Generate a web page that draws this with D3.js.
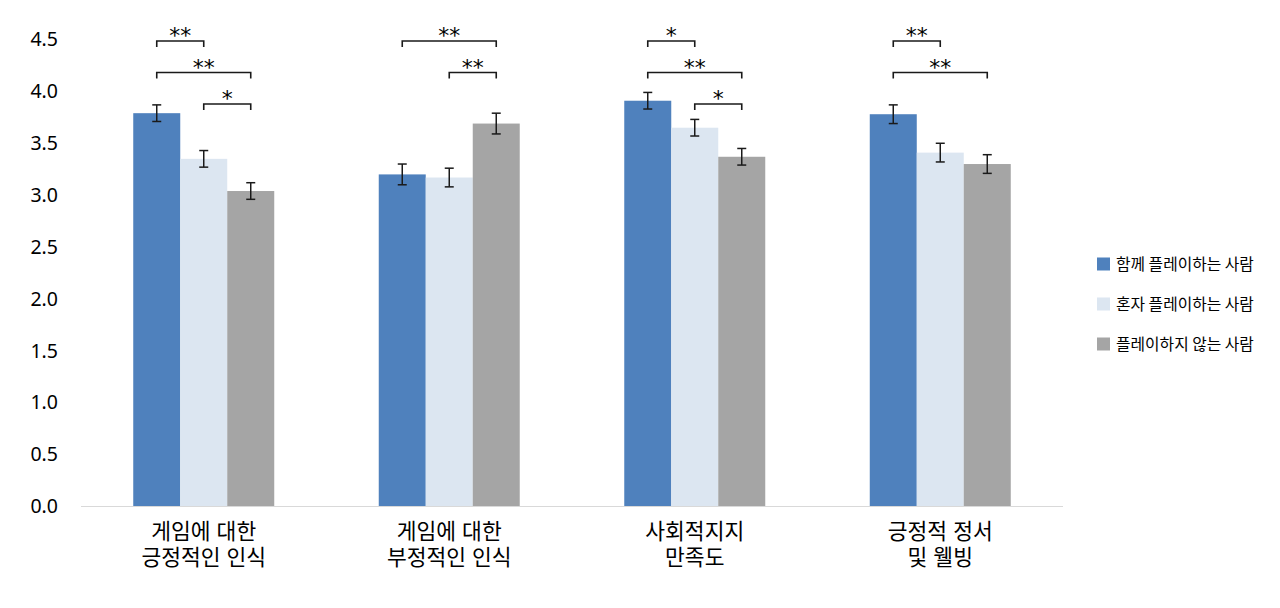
<!DOCTYPE html>
<html>
<head>
<meta charset="utf-8">
<script src="https://cdn.jsdelivr.net/npm/d3@7/dist/d3.min.js"></script>
<style>
  html, body { margin: 0; padding: 0; background: #fff; }
  svg { display: block; }
</style>
</head>
<body>
<svg id="chart" width="1280" height="608"></svg>
<script>
// ---- data ----
const categoryLine1 = ["게임에 대한", "게임에 대한", "사회적지지", "긍정적 정서"];
const categoryLine2 = ["긍정적인 인식", "부정적인 인식", "만족도", "및 웰빙"];
const seriesNames = ["함께 플레이하는 사람", "혼자 플레이하는 사람", "플레이하지 않는 사람"];
const seriesColors = ["#4F81BD", "#DCE6F1", "#A5A5A5"];
const togetherValues = [3.79, 3.20, 3.91, 3.78];
const aloneValues    = [3.35, 3.17, 3.65, 3.41];
const noneValues     = [3.04, 3.69, 3.37, 3.30];
const togetherErrors = [0.08, 0.10, 0.08, 0.09];
const aloneErrors    = [0.08, 0.09, 0.08, 0.09];
const noneErrors     = [0.08, 0.10, 0.08, 0.09];
const yTicks = [0, 0.5, 1.0, 1.5, 2.0, 2.5, 3.0, 3.5, 4.0, 4.5];
// significance comparisons: [category index, series a, series b, bracket level, label]
const comparisons = [
  [0, 0, 1, 0, "**"], [0, 0, 2, 1, "**"], [0, 1, 2, 2, "*"],
  [1, 0, 2, 0, "**"], [1, 1, 2, 1, "**"],
  [2, 0, 1, 0, "*"],  [2, 0, 2, 1, "**"], [2, 1, 2, 2, "*"],
  [3, 0, 1, 0, "**"], [3, 0, 2, 1, "**"]
];

const seriesValues = [togetherValues, aloneValues, noneValues];
const seriesErrors = [togetherErrors, aloneErrors, noneErrors];

// ---- layout ----
const svg = d3.select("#chart");
const plotLeft = 81, plotRight = 1063, plotTop = 39.5, plotBottom = 506.5;

const x0 = d3.scaleBand()
  .domain(d3.range(categoryLine1.length))
  .range([plotLeft, plotRight])
  .paddingInner(0.4257)
  .paddingOuter(0.2128);
const x1 = d3.scaleBand()
  .domain(d3.range(seriesNames.length))
  .range([0, x0.bandwidth()]);
const y = d3.scaleLinear().domain([0, 4.5]).range([plotBottom, plotTop]);
const levelY = d3.scaleLinear().domain([0, 2]).range([41, 104]);

const krFont = "'Noto Sans CJK KR', 'Noto Sans', sans-serif";
const labelFont = "'Liberation Sans', 'Noto Sans CJK KR', sans-serif";
const numFont = "'Noto Sans', 'Open Sans', sans-serif";

// y axis (labels only)
const yAxis = d3.axisLeft(y).tickValues(yTicks).tickFormat(d3.format(".1f")).tickSize(0).tickPadding(0);
const gy = svg.append("g").attr("transform", `translate(58,0)`).call(yAxis);
gy.select(".domain").remove();
gy.selectAll("text").attr("font-family", numFont).attr("font-size", 19.5).attr("fill", "#000");

// bars
const groups = svg.append("g").selectAll("g")
  .data(d3.range(categoryLine1.length))
  .join("g")
  .attr("transform", i => `translate(${x0(i)},0)`);

const barData = i => seriesValues.map((vals, s) => ({ s, v: vals[i], e: seriesErrors[s][i] }));

groups.selectAll("rect")
  .data(barData)
  .join("rect")
  .attr("x", d => x1(d.s))
  .attr("width", x1.bandwidth())
  .attr("y", d => y(d.v))
  .attr("height", d => y(0) - y(d.v))
  .attr("fill", d => seriesColors[d.s]);

// error bars
const capW = 4.5;
const eb = groups.selectAll("g.err")
  .data(barData)
  .join("g").attr("class", "err")
  .attr("stroke", "#1a1a1a").attr("stroke-width", 1.5);
const mid = d => x1(d.s) + x1.bandwidth() / 2;
eb.append("line")
  .attr("x1", mid).attr("x2", mid)
  .attr("y1", d => y(d.v + d.e)).attr("y2", d => y(d.v - d.e));
eb.append("line")
  .attr("x1", d => mid(d) - capW).attr("x2", d => mid(d) + capW)
  .attr("y1", d => y(d.v + d.e)).attr("y2", d => y(d.v + d.e));
eb.append("line")
  .attr("x1", d => mid(d) - capW).attr("x2", d => mid(d) + capW)
  .attr("y1", d => y(d.v - d.e)).attr("y2", d => y(d.v - d.e));

// x axis line
const xAxis = d3.axisBottom(x0).tickSize(0).tickFormat("");
const gx = svg.append("g").attr("transform", `translate(0,${plotBottom})`).call(xAxis);
gx.select(".domain").attr("stroke", "#D9D9D9").attr("stroke-width", 1.2)
  .attr("d", `M${plotLeft},0H${plotRight}`);

// category labels (two lines, separate text elements)
[categoryLine1, categoryLine2].forEach((lines, j) => {
  svg.append("g").selectAll("text")
    .data(lines)
    .join("text")
    .attr("x", (d, i) => x0(i) + x0.bandwidth() / 2)
    .attr("y", plotBottom + 32 + j * 26)
    .attr("text-anchor", "middle")
    .attr("font-family", labelFont)
    .attr("font-size", 21.5)
    .attr("fill", "#000")
    .text(d => d);
});

// significance brackets
const cx = (c, s) => x0(c) + x1(s) + x1.bandwidth() / 2;
const br = svg.append("g").selectAll("g").data(comparisons).join("g");
br.append("path")
  .attr("fill", "none").attr("stroke", "#1a1a1a").attr("stroke-width", 1.6)
  .attr("d", d => {
    const ya = levelY(d[3]);
    return `M${cx(d[0], d[1])},${ya + 6}V${ya}H${cx(d[0], d[2])}V${ya + 6}`;
  });
br.append("text")
  .attr("x", d => (cx(d[0], d[1]) + cx(d[0], d[2])) / 2)
  .attr("y", d => levelY(d[3]) + 2)
  .attr("text-anchor", "middle")
  .attr("font-family", "'DejaVu Sans', sans-serif")
  .attr("font-size", 22)
  .attr("fill", "#000")
  .text(d => d[4]);

// legend
const legend = svg.append("g").selectAll("g")
  .data(seriesNames)
  .join("g")
  .attr("transform", (d, i) => `translate(1097,${264 + i * 40})`);
legend.append("rect")
  .attr("x", 0).attr("y", -6.5).attr("width", 13).attr("height", 13)
  .attr("fill", (d, i) => seriesColors[i]);
legend.append("text")
  .attr("x", 19).attr("y", 0).attr("dy", "0.35em")
  .attr("font-family", krFont).attr("font-size", 15.8).attr("fill", "#000")
  .text(d => d);
</script>
</body>
</html>
